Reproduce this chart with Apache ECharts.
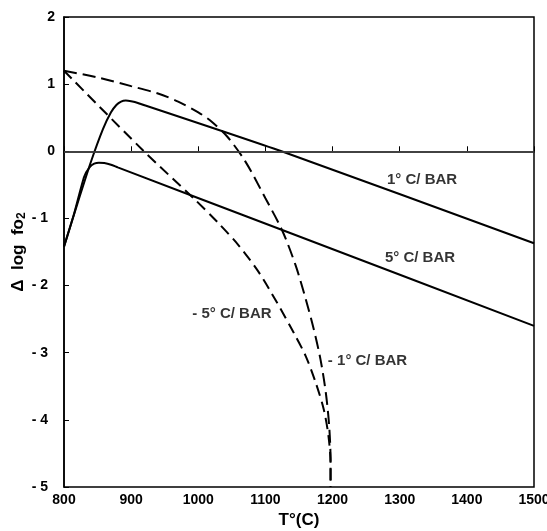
<!DOCTYPE html>
<html>
<head>
<meta charset="utf-8">
<title>delta log fo2 vs T</title>
<script src="https://cdn.jsdelivr.net/npm/echarts@6/dist/echarts.min.js"></script>
<style>
  html, body { margin: 0; padding: 0; background: #fff; }
  #main { width: 547px; height: 531px; }
</style>
</head>
<body>
<div id="main"></div>
<script>
// 曲线数据 [T, Δlog fO2]
var curve1CPerBar = [
    [800, -1.42], [820, -0.78], [840, -0.16], [858, 0.33], [870, 0.58], [878, 0.69],
    [885, 0.74], [892, 0.755], [900, 0.745], [910, 0.72], [1124, 0.0], [1500, -1.37]
];
var curve5CPerBar = [
    [800, -1.42], [815, -0.93], [830, -0.38], [838, -0.24], [845, -0.185], [852, -0.17],
    [860, -0.175], [870, -0.2], [880, -0.24], [1127, -1.18], [1500, -2.6]
];
var curveMinus1CPerBar = [
    [800, 1.2], [850, 1.1], [900, 0.97], [940, 0.86], [970, 0.74], [1000, 0.58],
    [1020, 0.44], [1043, 0.22], [1070, -0.15], [1100, -0.7], [1125, -1.18],
    [1145, -1.7], [1160, -2.2], [1172, -2.65], [1182, -3.1], [1190, -3.6],
    [1195, -4.1], [1197, -4.6], [1197, -5]
];
var curveMinus5CPerBar = [
    [800, 1.2], [919, 0.0], [993, -0.7], [1030, -1.07], [1060, -1.4], [1090, -1.8],
    [1117, -2.25], [1142, -2.7], [1160, -3.05], [1175, -3.45], [1187, -3.85],
    [1194, -4.25], [1197, -4.65], [1197, -5]
];
// 曲线标注 [T, Δlog fO2, 文字]
var curveLabels = [
    [1281, -0.43, '1° C/ BAR'],
    [1278, -1.58, '5° C/ BAR'],
    [991, -2.42, '- 5° C/ BAR'],
    [1193, -3.12, '- 1° C/ BAR']
];
var xTicks = [800, 900, 1000, 1100, 1200, 1300, 1400, 1500];
var yTicks = [-5, -4, -3, -2, -1, 0, 1, 2];

var fontFam = '"Liberation Sans", Arial, sans-serif';

var labelSeries = {
    type: 'scatter',
    symbolSize: 0,
    silent: true,
    data: curveLabels.map(function (d) { return { value: [d[0], d[1]], name: d[2] }; }),
    label: {
        show: true,
        position: 'right',
        distance: 0,
        formatter: function (p) { return p.name; },
        color: '#000',
        fontWeight: 'bold',
        fontSize: 15,
        fontFamily: fontFam
    },
    z: 5
};

function lineSeries(name, data, dashed, smooth) {
    return {
        name: name,
        type: 'line',
        data: data,
        showSymbol: false,
        smooth: smooth || false,
        silent: true,
        lineStyle: {
            color: '#000',
            width: 2,
            type: dashed ? dashed : 'solid'
        }
    };
}

var e = echarts.init(document.getElementById('main'));
var series = [
    lineSeries('1°C/BAR', curve1CPerBar, null, 0.2),
    lineSeries('5°C/BAR', curve5CPerBar, null, 0.2),
    lineSeries('-1°C/BAR', curveMinus1CPerBar, [13, 6], 0.3),
    lineSeries('-5°C/BAR', curveMinus5CPerBar, [11, 6], 0.3),
    labelSeries
];
// 零线
series[0].markLine = {
    silent: true,
    symbol: 'none',
    label: { show: false },
    lineStyle: { color: '#444', width: 1.5, type: 'solid' },
    data: [{ yAxis: 0 }]
};

var option = {
    animation: false,
    backgroundColor: '#fff',
    grid: {
        left: 64,
        right: 13,
        top: 17,
        bottom: 44,
        outerBoundsMode: 'none',
        containLabel: false,
        show: true,
        borderColor: '#000',
        borderWidth: 1.5
    },
    xAxis: {
        type: 'value',
        min: xTicks[0],
        max: xTicks[xTicks.length - 1],
        interval: 100,
        name: 'T°(C)',
        nameLocation: 'middle',
        nameGap: 24,
        nameTextStyle: { color: '#000', fontWeight: 'bold', fontSize: 17, fontFamily: fontFam },
        axisLine: { lineStyle: { color: '#000', width: 1.5 } },
        axisTick: { inside: true, length: 5, lineStyle: { color: '#000' } },
        axisLabel: {
            color: '#000', fontWeight: 'bold', fontSize: 14, margin: 6, fontFamily: fontFam,
            formatter: function (v) { return String(v); }
        },
        splitLine: { show: false }
    },
    yAxis: {
        type: 'value',
        min: yTicks[0],
        max: yTicks[yTicks.length - 1],
        interval: 1,
        name: '{a|Δ  log  fo}{s|2}',
        nameLocation: 'middle',
        nameRotate: 90,
        nameGap: 36,
        nameMoveOverlap: false,
        nameTextStyle: {
            color: '#000',
            rich: {
                a: { fontWeight: 'bold', fontSize: 17, fontFamily: fontFam, color: '#000' },
                s: { fontWeight: 'bold', fontSize: 12, fontFamily: fontFam, color: '#000', verticalAlign: 'bottom', padding: [7, 0, 0, 0] }
            }
        },
        axisLine: { lineStyle: { color: '#000', width: 1.5 } },
        axisTick: { inside: true, length: 5, lineStyle: { color: '#000' } },
        axisLabel: {
            margin: 9,
            formatter: function (v) {
                return v < 0 ? '{n|- ' + (-v) + '}' : '{p|' + v + '}';
            },
            rich: {
                p: { color: '#000', fontWeight: 'bold', fontSize: 14, fontFamily: fontFam },
                n: { color: '#000', fontWeight: 'bold', fontSize: 14, fontFamily: fontFam, padding: [0, 7, 0, 0] }
            }
        },
        splitLine: { show: false }
    },
    series: series
};
e.setOption(option);
</script>
</body>
</html>
